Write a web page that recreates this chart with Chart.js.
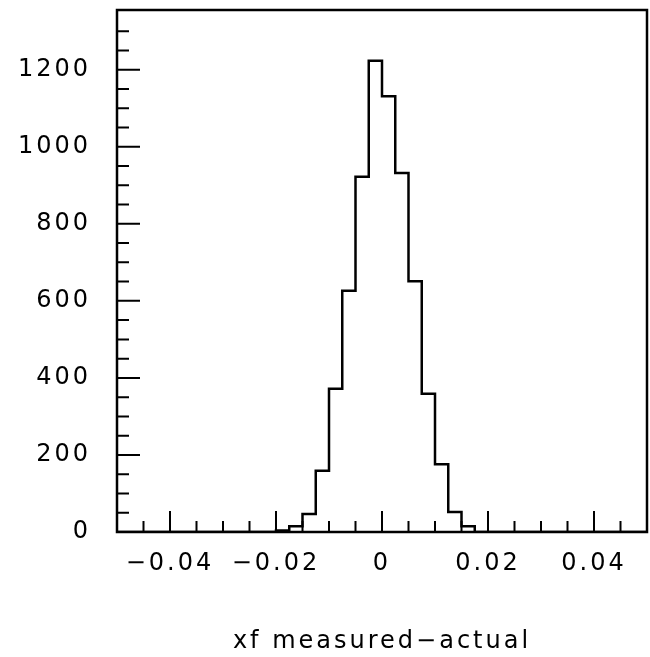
<!DOCTYPE html>
<html>
<head>
<meta charset="utf-8">
<style>
  html, body { margin: 0; padding: 0; background: #fff; }
  #wrap { width: 650px; height: 657px; }
</style>
<script src="https://cdn.jsdelivr.net/npm/chart.js"></script>
</head>
<body>
<div id="wrap"><canvas id="histo" width="650" height="657"></canvas></div>
<script>
// histogram of xf measured - actual, bin width 0.0025
const binLeft = [-0.02, -0.0175, -0.015, -0.0125, -0.01, -0.0075, -0.005, -0.0025,
                 0, 0.0025, 0.005, 0.0075, 0.01, 0.0125, 0.015];
const counts  = [4, 15, 47, 159, 372, 626, 922, 1223,
                 1131, 932, 651, 359, 176, 52, 15];
const binWidth = 0.0025;
const xRange = [-0.05, 0.05];
const yRange = [0, 1355];
const xLabelStep = 0.02;   // labelled ticks
const xMinorStep = 0.005;
const yLabelStep = 200;
const yMinorStep = 50;
const xTitle = 'xf measured\u2212actual';

Chart.defaults.font.family = 'DejaVu Sans';
Chart.defaults.font.size = 24;
Chart.defaults.color = '#000';

// build step points from bins (value held from a bin's left edge to the next point)
const pts = [{x: xRange[0], y: 0}];
binLeft.forEach((b, i) => pts.push({x: b, y: counts[i]}));
pts.push({x: binLeft[binLeft.length - 1] + binWidth, y: 0});
pts.push({x: xRange[1], y: 0});

function fmtX(v) {
    const r = Math.round(v * 1000) / 1000;
    if (r === 0) return '0';
    return (r < 0 ? '\u2212' : '') + Math.abs(r).toFixed(2);
}

const spacing = {
    id: 'spacing',
    beforeUpdate(chart) { chart.ctx.letterSpacing = '3px'; },
    beforeDraw(chart) { chart.ctx.letterSpacing = '3px'; }
};

// frame + ticks pointing into the plot, like the original
const innerTicks = {
    id: 'innerTicks',
    afterDraw(chart) {
        const ctx = chart.ctx;
        const a = chart.chartArea;
        const xs = chart.scales.x, ys = chart.scales.y;
        ctx.save();
        ctx.strokeStyle = '#000';
        ctx.lineWidth = 2;
        ctx.beginPath();
        xs.ticks.forEach(t => {
            const k = Math.round(t.value / xMinorStep * 1000) / 1000;
            if (!Number.isInteger(k)) return;
            const major = Math.abs(Math.round(t.value / xLabelStep * 1000) / 1000 % 1) < 1e-9;
            const px = xs.getPixelForValue(t.value);
            ctx.moveTo(px, a.bottom);
            ctx.lineTo(px, a.bottom - (major ? 21 : 11));
        });
        ys.ticks.forEach(t => {
            if (t.value % yMinorStep !== 0) return;
            const major = t.value % yLabelStep === 0;
            const py = ys.getPixelForValue(t.value);
            ctx.moveTo(a.left, py);
            ctx.lineTo(a.left + (major ? 23 : 12), py);
        });
        ctx.stroke();
        ctx.lineWidth = 2.5;
        ctx.strokeRect(a.left, a.top, a.right - a.left, a.bottom - a.top);
        ctx.restore();
    }
};

new Chart(document.getElementById('histo').getContext('2d'), {
    type: 'line',
    data: {
        datasets: [{
            data: pts,
            stepped: 'before',
            borderColor: '#000',
            borderWidth: 2.5,
            pointRadius: 0,
            fill: false
        }]
    },
    options: {
        responsive: false,
        animation: false,
        layout: { padding: { left: 0, right: 3, top: 10, bottom: 0 } },
        plugins: { legend: { display: false }, tooltip: { enabled: false } },
        scales: {
            x: {
                type: 'linear',
                min: xRange[0],
                max: xRange[1],
                grid: { display: false, drawTicks: false },
                border: { display: false },
                afterFit: s => {
                    s.height = 125;
                    s.paddingLeft = 0;
                    s.paddingRight = 0;
                },
                ticks: {
                    stepSize: xMinorStep,
                    autoSkip: false,
                    maxRotation: 0,
                    padding: 17,
                    callback: v => {
                        const q = Math.round(v / xLabelStep * 1000) / 1000;
                        return Number.isInteger(q) ? fmtX(v) : '';
                    }
                },
                title: {
                    display: true,
                    text: xTitle,
                    padding: { top: 0, bottom: 1 }
                }
            },
            y: {
                min: yRange[0],
                max: yRange[1],
                grid: { display: false, drawTicks: false },
                border: { display: false },
                afterFit: s => {
                    s.width = 117;
                    s.paddingTop = 0;
                    s.paddingBottom = 0;
                },
                ticks: {
                    stepSize: yMinorStep,
                    autoSkip: false,
                    padding: 26,
                    callback: v => (v % yLabelStep === 0 ? String(v) : '')
                }
            }
        }
    },
    plugins: [spacing, innerTicks]
});
</script>
</body>
</html>
